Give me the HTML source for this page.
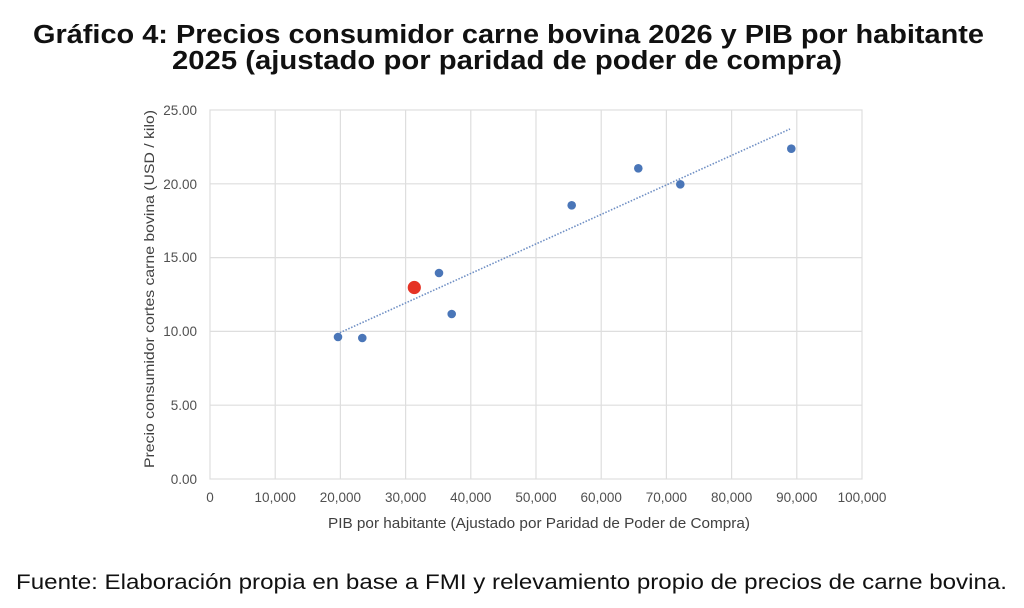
<!DOCTYPE html>
<html><head><meta charset="utf-8"><style>
html,body{margin:0;padding:0;background:#fff;}
svg{display:block;}
</style></head><body>
<svg width="1024" height="608" viewBox="0 0 1024 608" xmlns="http://www.w3.org/2000/svg" font-family="'Liberation Sans', sans-serif">
<rect width="1024" height="608" fill="#fff"/>
<text x="33" y="43" font-size="25.5" font-weight="bold" fill="#111" textLength="951" lengthAdjust="spacingAndGlyphs">Gráfico 4: Precios consumidor carne bovina 2026 y PIB por habitante</text>
<text x="172" y="69" font-size="25.5" font-weight="bold" fill="#111" textLength="670" lengthAdjust="spacingAndGlyphs">2025 (ajustado por paridad de poder de compra)</text>
<g stroke="#dedede" stroke-width="1.2" fill="none">
<line x1="275.2" y1="110" x2="275.2" y2="479"/>
<line x1="340.4" y1="110" x2="340.4" y2="479"/>
<line x1="405.6" y1="110" x2="405.6" y2="479"/>
<line x1="470.8" y1="110" x2="470.8" y2="479"/>
<line x1="536" y1="110" x2="536" y2="479"/>
<line x1="601.2" y1="110" x2="601.2" y2="479"/>
<line x1="666.4" y1="110" x2="666.4" y2="479"/>
<line x1="731.6" y1="110" x2="731.6" y2="479"/>
<line x1="796.8" y1="110" x2="796.8" y2="479"/>
<line x1="210" y1="183.8" x2="862" y2="183.8"/>
<line x1="210" y1="257.6" x2="862" y2="257.6"/>
<line x1="210" y1="331.4" x2="862" y2="331.4"/>
<line x1="210" y1="405.2" x2="862" y2="405.2"/>
<rect x="210" y="110" width="652" height="369"/>
</g>
<g font-size="13.5" fill="#505050" text-anchor="end">
<text x="197" y="115">25.00</text>
<text x="197" y="189">20.00</text>
<text x="197" y="262">15.00</text>
<text x="197" y="336">10.00</text>
<text x="197" y="410">5.00</text>
<text x="197" y="484">0.00</text>
</g>
<g font-size="13.5" fill="#505050" text-anchor="middle">
<text x="210" y="502">0</text>
<text x="275.2" y="502">10,000</text>
<text x="340.4" y="502">20,000</text>
<text x="405.6" y="502">30,000</text>
<text x="470.8" y="502">40,000</text>
<text x="536" y="502">50,000</text>
<text x="601.2" y="502">60,000</text>
<text x="666.4" y="502">70,000</text>
<text x="731.6" y="502">80,000</text>
<text x="796.8" y="502">90,000</text>
<text x="862" y="502">100,000</text>
</g>
<text x="328" y="528" font-size="14.5" fill="#404040" textLength="422" lengthAdjust="spacingAndGlyphs">PIB por habitante (Ajustado por Paridad de Poder de Compra)</text>
<text transform="translate(154,468) rotate(-90)" x="0" y="0" font-size="14" fill="#404040" textLength="358" lengthAdjust="spacingAndGlyphs">Precio consumidor cortes carne bovina (USD / kilo)</text>
<line x1="337" y1="334" x2="790" y2="129" stroke="#6f8fc4" stroke-width="1.6" stroke-dasharray="1.5 1.6"/>
<g fill="#4a76b8">
<circle cx="338" cy="337" r="4.3"/>
<circle cx="362.3" cy="338" r="4.3"/>
<circle cx="451.7" cy="314" r="4.3"/>
<circle cx="439" cy="273" r="4.3"/>
<circle cx="571.7" cy="205.3" r="4.3"/>
<circle cx="638.3" cy="168.3" r="4.3"/>
<circle cx="680.3" cy="184.3" r="4.3"/>
<circle cx="791.3" cy="148.7" r="4.3"/>
</g>
<circle cx="414.3" cy="287.5" r="6.6" fill="#e53325"/>
<text x="16" y="589" font-size="21" fill="#111" textLength="991" lengthAdjust="spacingAndGlyphs">Fuente: Elaboración propia en base a FMI y relevamiento propio de precios de carne bovina.</text>
</svg>
</body></html>
